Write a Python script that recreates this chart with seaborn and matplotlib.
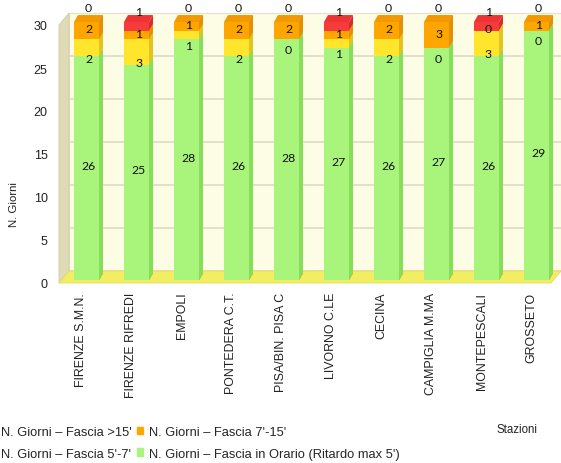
import numpy as np
import pandas as pd
import matplotlib
matplotlib.use("Agg")
import matplotlib.pyplot as plt
import seaborn as sns
from matplotlib.patches import Polygon, Patch
from matplotlib.transforms import ScaledTranslation

# ---------------- data ----------------
stations = ["FIRENZE S.M.N.", "FIRENZE RIFREDI", "EMPOLI", "PONTEDERA C.T.",
            "PISA/BIN. PISA C", "LIVORNO C.LE", "CECINA", "CAMPIGLIA M.MA",
            "MONTEPESCALI", "GROSSETO"]
in_orario = [26, 25, 28, 26, 28, 27, 26, 27, 26, 29]
fascia_5_7 = [2, 3, 1, 2, 0, 1, 2, 0, 3, 0]
fascia_7_15 = [2, 1, 1, 2, 2, 1, 2, 3, 0, 1]
fascia_15 = [0, 1, 0, 0, 0, 1, 0, 0, 1, 0]
series_names = ["N. Giorni – Fascia in Orario (Ritardo max 5')",
                "N. Giorni – Fascia 5'-7'",
                "N. Giorni – Fascia 7'-15'",
                "N. Giorni – Fascia >15'"]
yticks = [0, 5, 10, 15, 20, 25, 30]

# ---------------- style ----------------
sns.set_style("white")
plt.rcParams['font.family'] = ['Liberation Sans', 'DejaVu Sans']

front = ["#A9F57C", "#FFE52B", "#FFA500", "#F53B3B"]
side = ["#86DE5A", "#E3C41C", "#E59000", "#D62C2C"]
topc = ["#BDF89A", "#FFEE70", "#F29800", "#EC3434"]

W, H = 561, 464
fig = plt.figure(figsize=(W / 100, H / 100), dpi=100)


def fx(x):
    return x / W


def fy(y):
    return (H - y) / H


# back wall
axw = fig.add_axes([fx(69), fy(272), fx(561) - fx(69), fy(14) - fy(272)])
axw.set_facecolor("#FDFDE6")
axw.set_ylim(0, 30)
axw.set_xlim(0, 1)
axw.set_yticks(yticks)
axw.grid(axis='y', color='#DDDBC6', lw=1.2)
axw.grid(axis='x', visible=False)
axw.tick_params(left=False, bottom=False, labelleft=False, labelbottom=False)
for s in axw.spines.values():
    s.set_color("#E2E0CC")

# left wall and floor
fig.add_artist(Polygon([(fx(59), fy(284)), (fx(69), fy(272)), (fx(69), fy(14)), (fx(59), fy(26))],
                       closed=True, transform=fig.transFigure, facecolor="#DEDBB6",
                       edgecolor="#D0CDA8", lw=0.6, zorder=1))
fig.add_artist(Polygon([(fx(59), fy(284)), (fx(551), fy(284)), (fx(561), fy(272)), (fx(69), fy(272))],
                       closed=True, transform=fig.transFigure, facecolor="#F2EE62",
                       edgecolor="#E0DC60", lw=0.6, zorder=1))

# bars
ax = fig.add_axes([fx(61.5), fy(281), 500 / W, fy(23) - fy(281)])
ax.set_zorder(2)
ax.patch.set_alpha(0)

vals = [in_orario, fascia_5_7, fascia_7_15, fascia_15]
cum = np.cumsum(np.array(vals), axis=0)
df = pd.DataFrame({"Stazione": stations})
for k in range(4):
    df[f"cum{k}"] = cum[k]

patches_by_series = {}
for k in reversed(range(4)):
    n0 = len(ax.patches)
    sns.barplot(data=df, x="Stazione", y=f"cum{k}", color=front[k], saturation=1,
                width=0.5, errorbar=None, ax=ax, zorder=3, linewidth=0, edgecolor='none')
    patches_by_series[k] = ax.patches[n0:]

ax.set_ylim(0, 30)
ax.set_xlim(-0.5, 9.5)

dx = 0.08
dy = 0.81
# side faces (top series first so lower ones overlay)
for k in reversed(range(4)):
    for p in patches_by_series[k]:
        x0, w, y0, h = p.get_x(), p.get_width(), p.get_y(), p.get_height()
        ax.add_patch(Polygon([(x0 + w, y0), (x0 + w + dx, y0 + dy), (x0 + w + dx, y0 + h + dy), (x0 + w, y0 + h)],
                             closed=True, facecolor=side[k], edgecolor='none', zorder=2, clip_on=False))
# top faces, coloured by the highest non-empty segment
for i, p in enumerate(patches_by_series[3]):
    x0, w, h = p.get_x(), p.get_width(), p.get_height()
    ktop = max(k for k in range(4) if vals[k][i] > 0)
    ax.add_patch(Polygon([(x0, h), (x0 + w, h), (x0 + w + dx, h + dy), (x0 + dx, h + dy)],
                         closed=True, facecolor=topc[ktop], edgecolor='none', zorder=2.5, clip_on=False))

# data labels
offs = [0.3, -1.2, 0.2, 1.7]
for k in range(4):
    for i, p in enumerate(patches_by_series[k]):
        bottom = cum[k - 1][i] if k > 0 else 0
        yc = bottom + vals[k][i] / 2 + offs[k]
        ax.text(p.get_x() + p.get_width() / 2 + 0.04, yc, str(vals[k][i]), ha='center', va='center',
                fontsize=8.8, family='Lato', color='#111111', zorder=6)

# axes cosmetics
for s in ax.spines.values():
    s.set_visible(False)
ax.set_xlabel("")
ax.set_ylabel("")
ax.set_yticks(yticks)
ax.set_yticklabels([str(t) for t in yticks])
ax.tick_params(axis='y', length=0, pad=10, labelsize=9, labelcolor='#222222')
ax.tick_params(axis='x', length=0, pad=8.5, labelsize=8.9, labelcolor='#222222', labelrotation=90)
for lab in ax.get_yticklabels():
    lab.set_transform(lab.get_transform() + ScaledTranslation(0, -0.03, fig.dpi_scale_trans))
for lab in ax.get_xticklabels():
    lab.set_transform(lab.get_transform() + ScaledTranslation(-0.05, 0, fig.dpi_scale_trans))

fig.text(fx(14), fy(205), "N. Giorni", rotation=90, ha='center', va='center', fontsize=8.2, color='#222222')
fig.text(fx(517), fy(430), "Stazioni", ha='center', va='center', fontsize=8.3, color='#222222')

handles = [Patch(color=front[3]), Patch(color=front[1]), Patch(color=front[2]), Patch(color=front[0])]
labels = [series_names[3], series_names[1], series_names[2], series_names[0]]
fig.legend(handles, labels, ncol=2, loc='upper left', bbox_to_anchor=(fx(-11), fy(427)),
           frameon=False, fontsize=9.3, handlelength=0.5, handleheight=0.5, handletextpad=0.45,
           columnspacing=0.35, labelspacing=0.75, borderpad=0, borderaxespad=0)

fig.savefig("out.png", dpi=100)
